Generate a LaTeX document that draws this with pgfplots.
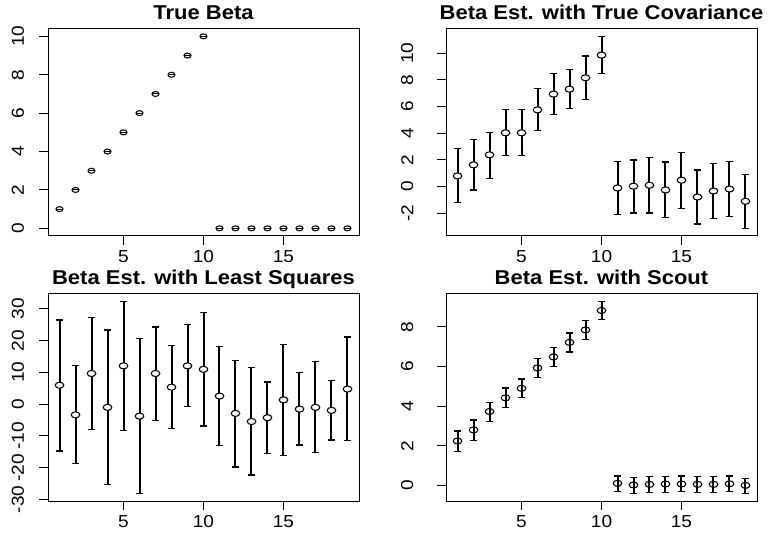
\documentclass[border=0pt]{standalone}
\usepackage{fontspec}
\setmainfont[FakeStretch=1.1]{Liberation Sans}
\usepackage{pgfplots}
\usepackage{pgfplotstable}
\pgfplotsset{compat=1.18}

% estimates: x, estimate, upper end, lower end
\pgfplotstableread{
x y
1 1
2 2
3 3
4 4
5 5
6 6
7 7
8 8
9 9
10 10
11 0
12 0
13 0
14 0
15 0
16 0
17 0
18 0
19 0
}\truebeta

\pgfplotstableread{
x y hi lo
1 0.80 2.83 -1.20
2 1.63 3.53 -0.25
3 2.38 4.08 0.60
4 4.03 5.75 2.33
5 4.03 5.75 2.33
6 5.75 7.35 4.20
7 6.93 8.45 5.38
8 7.30 8.75 5.85
9 8.15 9.78 6.53
10 9.85 11.25 8.50
11 -0.10 1.90 -2.10
12 0.03 2.00 -1.98
13 0.10 2.18 -1.98
14 -0.25 1.85 -2.33
15 0.48 2.55 -1.63
16 -0.78 1.25 -2.80
17 -0.33 1.75 -2.38
18 -0.18 1.90 -2.25
19 -1.10 0.88 -3.13
}\truecov

\pgfplotstableread{
x y hi lo
1 5.9 26.4 -14.8
2 -3.4 12.0 -18.7
3 9.6 27.1 -7.9
4 -1.05 23.3 -25.3
5 12.0 32.3 -8.3
6 -3.8 20.5 -28.1
7 9.6 24.2 -5.3
8 5.3 18.3 -7.8
9 12.0 24.9 -0.7
10 10.9 28.7 -6.9
11 2.5 18.1 -13.1
12 -2.95 13.8 -19.8
13 -5.5 11.4 -22.3
14 -4.3 6.9 -15.5
15 1.3 18.8 -16.3
16 -1.6 9.8 -12.9
17 -1.05 13.4 -15.3
18 -2.0 7.4 -11.3
19 4.7 21.1 -11.4
}\leastsq

\pgfplotstableread{
x y hi lo
1 2.24 2.75 1.73
2 2.80 3.30 2.27
3 3.73 4.20 3.24
4 4.42 4.92 3.92
5 4.90 5.37 4.42
6 5.93 6.41 5.44
7 6.49 6.95 6.02
8 7.22 7.69 6.73
9 7.85 8.34 7.36
10 8.83 9.29 8.36
11 0.10 0.47 -0.30
12 0.02 0.40 -0.40
13 0.05 0.44 -0.36
14 0.07 0.44 -0.36
15 0.07 0.47 -0.32
16 0.05 0.44 -0.37
17 0.05 0.44 -0.36
18 0.08 0.47 -0.30
19 0.00 0.36 -0.40
}\scout

\pgfplotsset{
  rpanel/.style={
    scale only axis, width=233.25pt, height=155.5pt,
    anchor=south west,
    xmin=0.28, xmax=19.72, xtick={5,10,15},
    axis line style={line width=0.75pt},
    tick style={black, line width=0.75pt},
    tick align=outside, major tick length=6.5pt,
    xtick pos=left, ytick pos=left,
    ticklabel style={font=\fontsize{13}{15}\selectfont},
    xticklabel shift=1pt,
    yticklabel style={rotate=90, anchor=south},
    yticklabel shift=8pt,
    every axis title shift=0pt,
    title style={font=\bfseries\fontsize{15}{17}\selectfont, at={(0.5,1)}, anchor=base, yshift=6.75pt},
    /pgf/number format/assume math mode=true,
    every error bar/.append style={line width=1.5pt},
  },
  % estimate with its interval: circle plus capped vertical bar
  rbars/.style={
    only marks, mark=#1, mark size=2.7pt,
    mark options={line width=0.8pt, draw=black, fill=white, xscale=1.2, yscale=0.85},
    error bars/.cd, y dir=both, y explicit,
    error mark=-,
    error bar style={draw=black, line width=1.5pt},
    error mark options={rotate=90, draw=black, line width=0.9pt, mark size=2.4pt},
  },
}

\begin{document}
\begin{tikzpicture}
\useasboundingbox (0,0) rectangle (576pt,399.75pt);

% top left
\begin{axis}[rpanel, at={(36pt,222.75pt)}, title={True Beta},
  ymin=-0.4, ymax=10.4, ytick={0,2,4,6,8,10}]
\addplot[only marks, mark=o, mark size=2.2pt, mark options={line width=0.8pt, draw=black, xscale=1.2, yscale=0.85}] table[x=x, y=y] {\truebeta};
\addplot[only marks, mark=-, mark size=2.6pt, mark options={line width=0.7pt, draw=black}] table[x=x, y=y] {\truebeta};
\end{axis}

% top right
\begin{axis}[rpanel, at={(334.5pt,222.75pt)}, title={Beta Est. with True Covariance},
  ymin=-3.7, ymax=11.83, ytick={-2,0,2,4,6,8,10}, yticklabel shift=14.5pt]
\addplot[rbars=*] table[x=x, y=y, y error plus expr=\thisrow{hi}-\thisrow{y}, y error minus expr=\thisrow{y}-\thisrow{lo}] {\truecov};
\end{axis}

% bottom left
\begin{axis}[rpanel, at={(36pt,24pt)}, title={Beta Est. with Least Squares},
  ymin=-30.5, ymax=34.7, ytick={-30,-20,-10,0,10,20,30}]
\addplot[rbars=*] table[x=x, y=y, y error plus expr=\thisrow{hi}-\thisrow{y}, y error minus expr=\thisrow{y}-\thisrow{lo}] {\leastsq};
\end{axis}

% bottom right
\begin{axis}[rpanel, at={(334.5pt,24pt)}, title={Beta Est. with Scout},
  ymin=-0.79, ymax=9.68, ytick={0,2,4,6,8}, yticklabel shift=14.5pt]
\addplot[rbars=o] table[x=x, y=y, y error plus expr=\thisrow{hi}-\thisrow{y}, y error minus expr=\thisrow{y}-\thisrow{lo}] {\scout};
\end{axis}
\end{tikzpicture}
\end{document}
